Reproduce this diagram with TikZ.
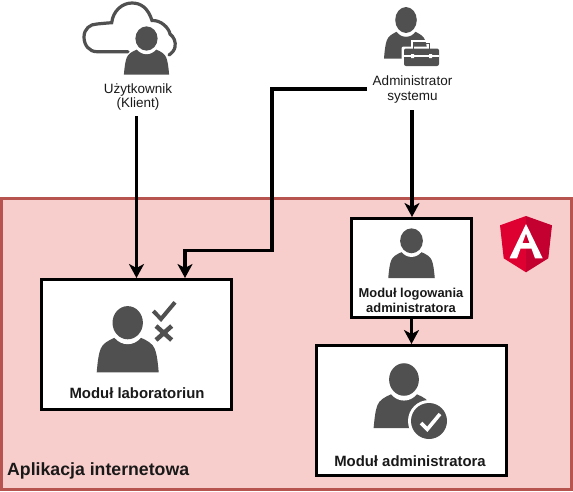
\documentclass[tikz,border=0pt]{standalone}
\usepackage{fontspec}
\setmainfont{Liberation Sans}
\usetikzlibrary{arrows.meta,calc}
\definecolor{appfill}{HTML}{F8CECC}
\definecolor{appline}{HTML}{B85450}
\definecolor{icongray}{HTML}{505050}
\definecolor{ngred}{HTML}{DD0031}
\definecolor{ngdark}{HTML}{C3002F}
\tikzset{
  x=1pt,y=-1pt,
  modbox/.style={draw=black,line width=3pt,fill=white,rectangle,inner sep=0pt},
  conn/.style={draw=black,line width=3.2pt,-{Stealth[length=14pt,width=15pt,inset=4pt]}},
  caption/.style={inner sep=0pt,align=center,font=\bfseries\fontsize{14.9}{15}\selectfont,text=black!90},
  smallcap/.style={inner sep=0pt,align=center,font=\fontsize{13.5}{14.2}\selectfont,text=black!90},
  person/.pic={
    \fill[icongray] (-31,49.6) .. controls (-30,38) and (-29,31) .. (-27,26)
      .. controls (-25,21) and (-20,18) .. (-13,15) -- (13,15)
      .. controls (20,18) and (25,21) .. (27,26)
      .. controls (29,31) and (30,38) .. (31,49.6) -- cycle;
    \fill[white] (0,0) ellipse [x radius=18.5,y radius=21.5];
    \fill[icongray] (0,0) ellipse [x radius=15.2,y radius=16.6];
  }
}
\begin{document}
\begin{tikzpicture}
\useasboundingbox (0,0) rectangle (573,491);
\node[draw=appline,fill=appfill,line width=3pt,rectangle,inner sep=0pt,minimum width=570pt,minimum height=291pt] (app) at (286.5,344) {};
\node[anchor=west,inner sep=0pt,font=\bfseries\fontsize{17.7}{18}\selectfont,text=black!90] (applabel) at (7,471) {Aplikacja internetowa};

% boxes
\node[modbox,minimum width=190pt,minimum height=130pt] (lab) at (136.5,344.5) {};
\node[modbox,minimum width=120pt,minimum height=99pt] (login) at (411.5,268) {};
\node[modbox,minimum width=190pt,minimum height=130pt] (admin) at (411.5,410.5) {};

% captions
\node[caption] (labcap) at (137,393) {Moduł laboratoriun};
\node[caption,font=\bfseries\fontsize{12.9}{15}\selectfont] (logincap) at (411,300) {Moduł logowania\\administratora};
\node[caption] (admincap) at (410,461) {Moduł administratora};
\node[smallcap] (user) at (138,97) {Użytkownik\\(Klient)};
\node[smallcap] (sysadmin) at (412.5,89.5) {Administrator\\systemu};

% cloud
\draw[icongray,line width=3.2pt,line cap=round] (128,51.7) -- (97,51.7)
  .. controls (89,51.7) and (84,45) .. (84,37)
  .. controls (84,29) and (90,24) .. (97,24)
  .. controls (102,23.5) and (107,23) .. (111.7,22.7)
  .. controls (113,11) and (122,3) .. (132,3)
  .. controls (141,3) and (148,8) .. (152,20.5)
  .. controls (161,20) and (169,28) .. (170,34)
  .. controls (174,37) and (176,42) .. (175,47)
  .. controls (174.5,50) and (172,53) .. (169,55);

% persons
\pic[xshift=146.5pt,yshift=-38.5pt,xscale=.73,yscale=.73] {person};
\pic[xshift=406pt,yshift=-20pt,xscale=.71,yscale=.78] {person};
\pic[xshift=411.5pt,yshift=-240.8pt,scale=.75] {person};
\pic[xshift=127.7pt,yshift=-322.7pt] {person};
\pic[xshift=404pt,yshift=-379.5pt,scale=.98] {person};

% briefcase
\fill[white,rounded corners=2pt] (401.5,46.5) rectangle (441.5,68.5);
\draw[white,line width=2pt] (412,50) -- (412,40.5) -- (431,40.5) -- (431,50);
\draw[icongray,line width=1.8pt] (413.5,49) -- (413.5,43.5) -- (429.5,43.5) -- (429.5,49);
\fill[icongray,rounded corners=2pt] (404,48.5) rectangle (439,66);
\draw[white,line width=1.2pt] (404,56) -- (439,56);
\fill[white] (411,54) rectangle (414,58) (429,54) rectangle (432,58);

% check and cross
\draw[icongray,line width=4pt] (153.3,311) -- (161,319) -- (175,302.3);
\draw[icongray,line width=4.5pt] (156,326) -- (171.7,340) (171.7,326) -- (156,340);

% badge
\fill[white] (429,421) circle [radius=21];
\fill[icongray] (429,421) circle [radius=18];
\draw[white,line width=3.6pt] (421,423) -- (427.3,429.3) -- (440,414);

% Angular logo
\fill[ngred] (526,216) -- (500,225.3) -- (503.7,258.3) -- (526,272.3) -- cycle;
\fill[ngdark] (526,216) -- (552,225.3) -- (548.3,258.3) -- (526,272.3) -- cycle;
\fill[white,even odd rule] (526,224) -- (542.7,258.3) -- (535,258.3) -- (531.5,248.7) -- (520.5,248.7) -- (517,258.3) -- (509.5,258.3) -- cycle
  (526,233.5) -- (529.5,243) -- (522.5,243) -- cycle;

% connectors
\coordinate (userout) at (136.5,116);
\coordinate (sysleft) at (367,89);
\coordinate (bendA) at (272,89);
\coordinate (bendB) at (272,250.5);
\coordinate (bendC) at (185,250.5);
\coordinate (sysdown) at (412,110);
\draw[conn] (userout) -- (lab.north);
\draw[conn] (sysleft) -- (bendA) -- (bendB) -- (bendC) -- (bendC |- lab.north);
\draw[conn] (sysdown) -- (sysdown |- login.north);
\draw[conn] (login.south) -- (login.south |- admin.north);
\end{tikzpicture}
\end{document}
